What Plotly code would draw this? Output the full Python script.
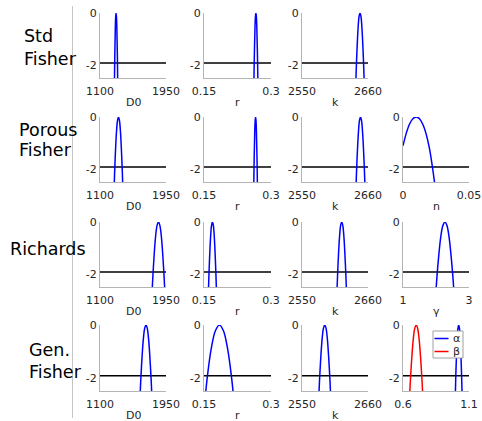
import plotly.graph_objects as go

# ---------------- data ----------------
THRESH = -1.92  # 95% threshold of normalised profile log-likelihood

# Row 1: Std Fisher
std_D0_x = [1282, 1289, 1297, 1302, 1307, 1312, 1317, 1325, 1332]
std_D0_y = [-3.7, -1.92, -0.59, -0.15, 0, -0.15, -0.59, -1.92, -3.7]
std_r_x = [0.2612, 0.2624, 0.2642, 0.2652, 0.2662, 0.2672, 0.2682, 0.2700, 0.2712]
std_r_y = [-3.32, -1.92, -0.53, -0.13, 0, -0.13, -0.53, -1.92, -3.32]
std_k_x = [2638.7, 2640.8, 2643.7, 2645.2, 2646.7, 2648.2, 2649.7, 2652.6, 2654.7]
std_k_y = [-3.53, -1.92, -0.50, -0.12, 0, -0.12, -0.50, -1.92, -3.53]

# Row 2: Porous Fisher
por_D0_x = [1278, 1291, 1313, 1326, 1338, 1350, 1363, 1385, 1398]
por_D0_y = [-3.13, -1.92, -0.54, -0.125, 0, -0.125, -0.54, -1.92, -3.13]
por_r_x = [0.2607, 0.2620, 0.2637, 0.2646, 0.2655, 0.2664, 0.2673, 0.2690, 0.2703]
por_r_y = [-3.61, -1.92, -0.51, -0.13, 0, -0.13, -0.51, -1.92, -3.61]
por_k_x = [2639.0, 2641.2, 2644.3, 2645.9, 2647.5, 2649.1, 2650.7, 2653.8, 2656.0]
por_k_y = [-3.5, -1.92, -0.50, -0.12, 0, -0.12, -0.50, -1.92, -3.5]
por_n_x = [0, 0.0025, 0.005, 0.0075, 0.0100, 0.0125, 0.015, 0.0175, 0.020, 0.0225, 0.025]
por_n_y = [-1.11, -0.62, -0.27, -0.07, 0, -0.07, -0.28, -0.65, -1.2, -2.0, -2.95]

# Row 3: Richards
ric_D0_x = [1763, 1784, 1818, 1836, 1853, 1870, 1888, 1922, 1943]
ric_D0_y = [-3.27, -1.92, -0.49, -0.12, 0, -0.12, -0.49, -1.92, -3.27]
ric_r_x = [0.1594, 0.1613, 0.1649, 0.1669, 0.1689, 0.1709, 0.1729, 0.1765, 0.1784]
ric_r_y = [-3.0, -1.92, -0.53, -0.13, 0, -0.13, -0.53, -1.92, -3.0]
ric_k_x = [2607.7, 2609.5, 2612.8, 2614.5, 2616.2, 2617.9, 2619.6, 2622.9, 2624.7]
ric_k_y = [-3.09, -1.92, -0.49, -0.12, 0, -0.12, -0.49, -1.92, -3.09]
ric_g_x = [1.97, 2.04, 2.15, 2.21, 2.27, 2.33, 2.39, 2.50, 2.57]
ric_g_y = [-3.27, -1.92, -0.52, -0.13, 0, -0.13, -0.52, -1.92, -3.27]

# Row 4: Gen. Fisher
gen_D0_x = [1607, 1628, 1660, 1676, 1692, 1708, 1724, 1756, 1777]
gen_D0_y = [-3.39, -1.92, -0.48, -0.12, 0, -0.12, -0.48, -1.92, -3.39]
gen_r_x = [0.1495, 0.1578, 0.1665, 0.1755, 0.1845, 0.1935, 0.2025, 0.2112, 0.2195]
gen_r_y = [-3.3, -1.92, -0.87, -0.22, 0, -0.22, -0.87, -1.92, -3.3]
gen_k_x = [2576.9, 2579.6, 2583.7, 2585.8, 2587.9, 2590.0, 2592.1, 2596.2, 2598.9]
gen_k_y = [-3.37, -1.92, -0.49, -0.12, 0, -0.12, -0.49, -1.92, -3.37]
gen_alpha_x = [0.993, 1.000, 1.011, 1.0165, 1.022, 1.0275, 1.033, 1.044, 1.051]
gen_alpha_y = [-3.34, -1.92, -0.48, -0.12, 0, -0.12, -0.48, -1.92, -3.34]
gen_beta_x = [0.645, 0.658, 0.679, 0.6895, 0.70, 0.7105, 0.721, 0.742, 0.755]
gen_beta_y = [-3.29, -1.92, -0.48, -0.12, 0, -0.12, -0.48, -1.92, -3.29]

row_labels = [["Std", "Fisher"], ["Porous", "Fisher"], ["Richards"], ["Gen.", "Fisher"]]
y_ticks = [-2, 0]
y_ticktext = ["-2", "0"]

# ---------------- layout geometry (pixels in the screenshot) ----------------
W, H = 482, 421
OFF = 0  # body margin removed below, so the figure starts at the page corner
col_px = [(100, 166), (204, 271), (302, 368), (403, 469)]
row_px = [(13, 78), (117, 182), (222, 287), (325, 391)]
row_label_x = [21.7, 17.3, 7.5, 26.7]
row_label_y = [[36, 59], [130, 150], [249], [350, 372]]


def px(x):
    return (x - OFF) / W


def py(y):
    return 1 - (y - OFF) / H


BLUE = "#0000ff"
RED = "#ff0000"
FONT = "DejaVu Sans"
AXC = "#b4b4b4"
TXC = "#262626"

# (row, col, xrange, xticktext, xlabel, [(x, y, color), ...])
panels = [
    (0, 0, [1100, 1950], ["1100", "1950"], "D0", [(std_D0_x, std_D0_y, BLUE)]),
    (0, 1, [0.15, 0.3], ["0.15", "0.3"], "r", [(std_r_x, std_r_y, BLUE)]),
    (0, 2, [2550, 2660], ["2550", "2660"], "k", [(std_k_x, std_k_y, BLUE)]),
    (1, 0, [1100, 1950], ["1100", "1950"], "D0", [(por_D0_x, por_D0_y, BLUE)]),
    (1, 1, [0.15, 0.3], ["0.15", "0.3"], "r", [(por_r_x, por_r_y, BLUE)]),
    (1, 2, [2550, 2660], ["2550", "2660"], "k", [(por_k_x, por_k_y, BLUE)]),
    (1, 3, [0, 0.05], ["0", "0.05"], "n", [(por_n_x, por_n_y, BLUE)]),
    (2, 0, [1100, 1950], ["1100", "1950"], "D0", [(ric_D0_x, ric_D0_y, BLUE)]),
    (2, 1, [0.15, 0.3], ["0.15", "0.3"], "r", [(ric_r_x, ric_r_y, BLUE)]),
    (2, 2, [2550, 2660], ["2550", "2660"], "k", [(ric_k_x, ric_k_y, BLUE)]),
    (2, 3, [1, 3], ["1", "3"], "γ", [(ric_g_x, ric_g_y, BLUE)]),
    (3, 0, [1100, 1950], ["1100", "1950"], "D0", [(gen_D0_x, gen_D0_y, BLUE)]),
    (3, 1, [0.15, 0.3], ["0.15", "0.3"], "r", [(gen_r_x, gen_r_y, BLUE)]),
    (3, 2, [2550, 2660], ["2550", "2660"], "k", [(gen_k_x, gen_k_y, BLUE)]),
    (3, 3, [0.6, 1.1], ["0.6", "1.1"], "", [(gen_alpha_x, gen_alpha_y, BLUE), (gen_beta_x, gen_beta_y, RED)]),
]

fig = go.Figure()
annotations = []
shapes = []
layout_axes = {}

for i, (r, c, xr, xtt, xlab, curves) in enumerate(panels):
    n = i + 1
    xa = "x" if n == 1 else f"x{n}"
    ya = "y" if n == 1 else f"y{n}"
    x0p, x1p = col_px[c]
    y0p, y1p = row_px[r]
    common = dict(showline=True, linecolor=AXC, linewidth=1, showgrid=False,
                  zeroline=False, ticks="", fixedrange=True, automargin=False,
                  ticklabeloverflow="allow",
                  tickfont=dict(family=FONT, size=11, color=TXC))
    layout_axes["xaxis" if n == 1 else f"xaxis{n}"] = dict(
        domain=[px(x0p), px(x1p)], range=xr, anchor=ya,
        tickmode="array", tickvals=xr, ticktext=xtt, ticklabelstandoff=3, **common)
    layout_axes["yaxis" if n == 1 else f"yaxis{n}"] = dict(
        domain=[py(y1p), py(y0p)], range=[-2.5, 0], anchor=xa,
        tickmode="array", tickvals=y_ticks, ticktext=y_ticktext, **common)
    fig.add_trace(go.Scatter(x=xr, y=[THRESH, THRESH], mode="lines",
                             line=dict(color="#000000", width=1.5),
                             xaxis=xa, yaxis=ya, showlegend=False, hoverinfo="skip"))
    for cx, cy, col in curves:
        fig.add_trace(go.Scatter(x=cx, y=cy, mode="lines",
                                 line=dict(color=col, width=1.5, shape="spline", smoothing=1),
                                 xaxis=xa, yaxis=ya, showlegend=False))
    if xlab:
        annotations.append(dict(x=px((x0p + x1p) / 2), y=py(y1p + 24),
                                xref="paper", yref="paper", text=xlab, showarrow=False,
                                xanchor="center", yanchor="middle",
                                font=dict(family=FONT, size=11, color=TXC)))

for lines, lx, lys in zip(row_labels, row_label_x, row_label_y):
    for txt, ly in zip(lines, lys):
        annotations.append(dict(x=px(lx), y=py(ly), xref="paper", yref="paper",
                                text=txt, showarrow=False, xanchor="left", yanchor="middle",
                                font=dict(family=FONT, size=17.5, color="#000000")))

shapes.append(dict(type="line", xref="paper", yref="paper", x0=px(72.5), x1=px(72.5),
                   y0=py(6), y1=py(418), line=dict(color="#c4c4c4", width=1)))

lg_x0, lg_x1, lg_y0, lg_y1 = 433, 463, 331, 358
shapes.append(dict(type="rect", xref="paper", yref="paper", layer="above",
                   x0=px(lg_x0), x1=px(lg_x1), y0=py(lg_y0), y1=py(lg_y1),
                   fillcolor="white", line=dict(color="#a0a0a0", width=1)))
for ly, col, lab in [(338.5, BLUE, "α"), (351.5, RED, "β")]:
    shapes.append(dict(type="line", xref="paper", yref="paper", layer="above",
                       x0=px(434.5), x1=px(448.5), y0=py(ly), y1=py(ly),
                       line=dict(color=col, width=1.5)))
    annotations.append(dict(x=px(456), y=py(ly), xref="paper", yref="paper",
                            text=lab, showarrow=False, xanchor="center", yanchor="middle",
                            font=dict(family=FONT, size=11, color=TXC)))

fig.update_layout(width=W, height=H, autosize=False,
                  margin=dict(l=0, r=0, t=0, b=0, pad=0, autoexpand=False),
                  paper_bgcolor="white", plot_bgcolor="white",
                  annotations=annotations, shapes=shapes, showlegend=False,
                  hovermode=False, **layout_axes)

fig.write_html("out.html",
               config={"displayModeBar": False, "staticPlot": True},
               post_script="document.body.style.margin='0';"
                           "document.documentElement.style.overflow='hidden';")
